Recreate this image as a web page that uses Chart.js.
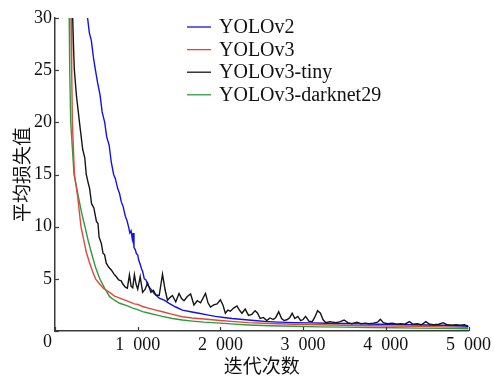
<!DOCTYPE html>
<html><head><meta charset="utf-8">
<script src="https://cdn.jsdelivr.net/npm/chart.js@4/dist/chart.umd.min.js"></script>
<style>html,body{margin:0;padding:0;background:#fff}</style>
</head><body>
<canvas id="c" width="494" height="377" style="width:494px;height:377px;display:block"></canvas>
<script>
const seriesNames = ['YOLOv2', 'YOLOv3', 'YOLOv3-tiny', 'YOLOv3-darknet29'];
const seriesColors = ['#1212e8', '#e2473c', '#151515', '#2f9a3c'];
const xTickValues = [0, 1000, 2000, 3000, 4000, 5000];
const yTickValues = [0, 5, 10, 15, 20, 25, 30];
const xTitle = '迭代次数';
const yTitle = '平均损失值';

const v2Iter = [350, 394, 415, 440, 465, 489, 515, 545, 570, 601, 625, 655, 680, 709, 730, 760, 780, 801, 825, 850, 870, 889, 905, 920, 935, 945, 955, 970, 985, 1000, 1012, 1030, 1045, 1060, 1080, 1100, 1120, 1140, 1200, 1260, 1320, 1380, 1460, 1540, 1640, 1740, 1840, 1940, 2040, 2140, 2240, 2340, 2440, 2535, 2700, 2900, 3100, 3300, 3500, 3700, 3900, 4100, 4300, 4500, 4700, 4900, 5000];
const v2Loss = [35, 30, 28.6, 27.8, 26.2, 25, 23.8, 22.6, 21.0, 20, 18.6, 17.8, 16.2, 15, 14.6, 13.6, 13.2, 12.4, 11.9, 11.0, 10.6, 10, 9.4, 9.6, 8.8, 9.4, 8.0, 7.8, 7.4, 7.3, 6.8, 6.4, 6.0, 5.7, 5.0, 4.9, 4.4, 4.2, 3.6, 3.15, 2.95, 2.65, 2.3, 2.0, 1.85, 1.7, 1.55, 1.4, 1.3, 1.2, 1.12, 1.05, 0.98, 0.92, 0.85, 0.8, 0.78, 0.74, 0.72, 0.68, 0.64, 0.62, 0.6, 0.58, 0.55, 0.5, 0.45];

const v3Iter = [185, 196, 202, 210, 235, 274, 314, 345, 380, 420, 450, 490, 540, 590, 660, 720, 800, 900, 960, 1000, 1060, 1140, 1220, 1300, 1420, 1540, 1660, 1800, 2000, 2170, 2337, 2600, 2900, 3200, 3500, 3800, 4100, 4400, 4700, 5000];
const v3Loss = [35, 30, 25, 20, 15, 12.9, 10, 8.8, 7.5, 6.5, 5.8, 5.0, 4.5, 4.05, 3.7, 3.35, 3.1, 2.8, 2.6, 2.55, 2.35, 2.17, 2.0, 1.85, 1.6, 1.37, 1.25, 1.15, 1.0, 0.9, 0.8, 0.72, 0.65, 0.6, 0.55, 0.5, 0.47, 0.44, 0.4, 0.36];

const tinyIter = [205, 214, 225, 234, 260, 296, 335, 360, 378, 401, 420, 442, 470, 501, 520, 533, 560, 581, 600, 620, 650, 681, 710, 741, 770, 800, 821, 850, 875, 900, 920, 940, 960, 980, 1000, 1030, 1060, 1090, 1120, 1160, 1190, 1220, 1260, 1300, 1330, 1360, 1390, 1420, 1460, 1500, 1530, 1560, 1600, 1640, 1680, 1720, 1760, 1820, 1850, 1880, 1920, 1960, 2000, 2030, 2060, 2090, 2120, 2160, 2200, 2230, 2260, 2300, 2340, 2380, 2420, 2450, 2480, 2520, 2560, 2600, 2640, 2670, 2705, 2740, 2770, 2810, 2840, 2868, 2900, 2936, 2970, 3000, 3030, 3070, 3110, 3140, 3175, 3210, 3240, 3275, 3320, 3360, 3400, 3450, 3495, 3540, 3590, 3650, 3700, 3750, 3800, 3850, 3900, 3934, 3970, 4020, 4080, 4130, 4180, 4230, 4286, 4330, 4380, 4430, 4485, 4530, 4580, 4640, 4693, 4740, 4800, 4850, 4900, 4950, 5000];
const tinyLoss = [35, 30, 27, 25, 22.5, 20, 17.4, 16.6, 15, 14.2, 13.6, 12.2, 11.8, 10.5, 10.3, 9.0, 8.4, 7.45, 7.3, 6.5, 6.1, 5.85, 5.5, 5.2, 4.9, 4.8, 4.5, 4.2, 4.1, 5.37, 4.3, 4.15, 5.4, 4.5, 4.0, 5.2, 3.7, 4.0, 4.6, 3.7, 3.9, 3.45, 3.4, 5.45, 4.0, 2.95, 3.2, 3.4, 2.8, 3.6, 3.1, 2.9, 3.3, 3.55, 2.5, 2.9, 2.7, 3.6, 2.7, 2.3, 2.5, 2.6, 3.0, 2.5, 1.7, 2.0, 1.9, 2.2, 2.4, 2.0, 1.7, 2.1, 1.5, 1.6, 1.95, 1.7, 1.2, 1.3, 1.0, 1.25, 1.1, 1.3, 1.85, 1.2, 1.0, 1.1, 1.3, 1.7, 1.2, 1.4, 1.0, 1.1, 1.4, 0.95, 0.9, 1.3, 1.95, 1.7, 1.1, 0.8, 0.9, 0.85, 0.8, 0.9, 1.05, 0.8, 0.7, 0.85, 0.7, 0.75, 0.7, 0.75, 0.85, 1.12, 0.8, 0.7, 0.75, 0.65, 0.7, 0.65, 0.9, 0.65, 0.7, 0.6, 0.9, 0.65, 0.6, 0.65, 0.8, 0.6, 0.55, 0.6, 0.55, 0.6, 0.45];

const dkIter = [160, 172, 178, 190, 230, 282, 320, 362, 400, 442, 490, 541, 601, 661, 720, 781, 860, 940, 980, 1000, 1060, 1140, 1220, 1300, 1420, 1540, 1660, 1800, 2000, 2170, 2337, 2600, 2900, 3200, 3500, 3800, 4100, 4400, 4700, 5000];
const dkLoss = [35, 30, 25, 20, 15, 12.9, 11.4, 10, 8.7, 7.45, 6.1, 5.0, 4.09, 3.29, 2.95, 2.66, 2.45, 2.2, 2.1, 2.05, 1.85, 1.7, 1.55, 1.4, 1.2, 1.05, 0.95, 0.85, 0.75, 0.66, 0.58, 0.5, 0.45, 0.4, 0.37, 0.34, 0.31, 0.28, 0.25, 0.22];

const iters = [v2Iter, v3Iter, tinyIter, dkIter];
const losses = [v2Loss, v3Loss, tinyLoss, dkLoss];
const drawOrder = [2, 3, 1, 4];

const serif = '"Liberation Serif", "Times New Roman", serif';
const cjk = '"Noto Sans CJK SC", sans-serif';
const axisColor = '#3a3a3a';
const fmt = v => v === 0 ? '' : String(v).replace(/(\d)(\d{3})$/, '$1\u2002$2');

const decor = {
  id: 'decor',
  afterDraw(chart) {
    const { ctx, chartArea: a, scales: { x, y } } = chart;
    ctx.save();
    ctx.strokeStyle = axisColor;
    ctx.lineWidth = 1.2;
    xTickValues.forEach(v => {
      const px = Math.round(x.getPixelForValue(v)) + 0.5;
      ctx.beginPath(); ctx.moveTo(px, a.bottom); ctx.lineTo(px, a.bottom - 4); ctx.stroke();
    });
    yTickValues.forEach(v => {
      const py = Math.round(y.getPixelForValue(v)) + 0.5;
      ctx.beginPath(); ctx.moveTo(a.left, py); ctx.lineTo(a.left + 4, py); ctx.stroke();
    });
    ctx.fillStyle = '#111';
    ctx.font = '18px ' + serif;
    ctx.textAlign = 'right';
    ctx.textBaseline = 'middle';
    ctx.fillText('0', a.left - 3, a.bottom + 11);
    const lx = a.left + 132, ly = a.top + 9, step = 22.6;
    ctx.font = '20px ' + serif;
    ctx.textAlign = 'left';
    chart.data.datasets.forEach((ds, i) => {
      const yy = ly + i * step;
      ctx.strokeStyle = ds.borderColor;
      ctx.lineWidth = 1.3;
      ctx.beginPath(); ctx.moveTo(lx, yy); ctx.lineTo(lx + 24, yy); ctx.stroke();
      ctx.fillStyle = '#111';
      ctx.fillText(ds.label, lx + 32, yy + 1);
    });
    ctx.restore();
  }
};

new Chart(document.getElementById('c'), {
  type: 'line',
  data: {
    datasets: seriesNames.map((name, i) => ({
      label: name,
      data: iters[i].map((it, k) => ({ x: it, y: losses[i][k] })),
      borderColor: seriesColors[i],
      backgroundColor: seriesColors[i],
      borderWidth: 1.4,
      pointRadius: 0,
      tension: 0,
      fill: false,
      order: drawOrder[i]
    }))
  },
  options: {
    responsive: false,
    animation: false,
    layout: { padding: { top: 18, right: 21, left: 0, bottom: 0 } },
    plugins: { legend: { display: false }, tooltip: { enabled: false } },
    scales: {
      x: {
        type: 'linear', min: 0, max: 5000,
        afterBuildTicks: s => { s.ticks = xTickValues.map(v => ({ value: v })); },
        afterFit: s => { s.height = 46; },
        grid: { display: false, drawTicks: false },
        border: { display: true, color: axisColor, width: 1.5 },
        ticks: { padding: 3, color: '#111', font: { family: serif, size: 18 }, maxRotation: 0, callback: v => fmt(v) },
        title: { display: true, text: xTitle, color: '#111', font: { family: cjk, size: 19 }, padding: { top: 0, bottom: 0 } }
      },
      y: {
        type: 'linear', min: 0, max: 30,
        afterBuildTicks: s => { s.ticks = yTickValues.map(v => ({ value: v })); },
        afterFit: s => { s.width = 55; },
        grid: { display: false, drawTicks: false },
        border: { display: true, color: axisColor, width: 1.5 },
        ticks: { padding: 3, color: '#111', font: { family: serif, size: 18 }, callback: v => v === 0 ? '' : String(v) },
        title: { display: true, text: yTitle, color: '#111', font: { family: cjk, size: 19 }, padding: { top: 10, bottom: 0 } }
      }
    }
  },
  plugins: [decor]
});
</script>
</body></html>
